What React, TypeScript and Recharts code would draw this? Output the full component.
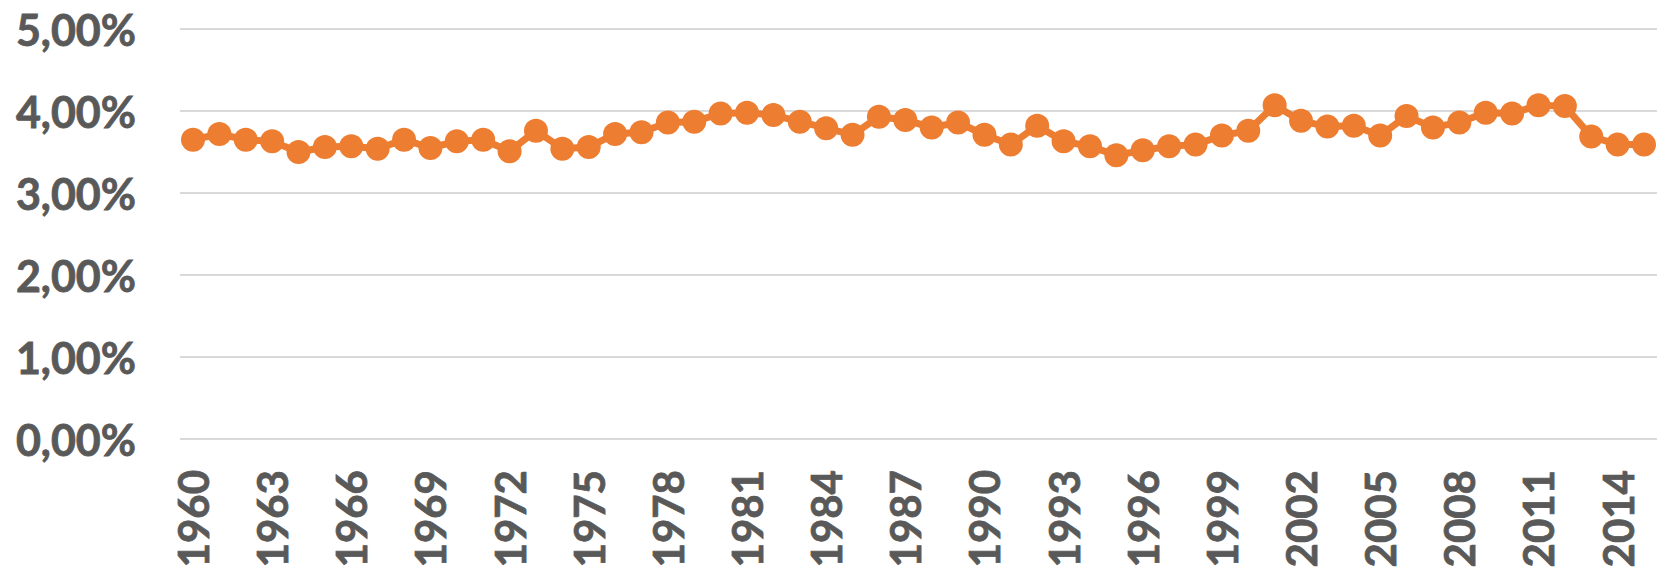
import { LineChart, Line, XAxis, YAxis, CartesianGrid } from 'recharts';

const years = [
  1960, 1961, 1962, 1963, 1964, 1965, 1966, 1967, 1968, 1969,
  1970, 1971, 1972, 1973, 1974, 1975, 1976, 1977, 1978, 1979,
  1980, 1981, 1982, 1983, 1984, 1985, 1986, 1987, 1988, 1989,
  1990, 1991, 1992, 1993, 1994, 1995, 1996, 1997, 1998, 1999,
  2000, 2001, 2002, 2003, 2004, 2005, 2006, 2007, 2008, 2009,
  2010, 2011, 2012, 2013, 2014, 2015,
];

// percent values
const rates = [
  3.65, 3.72, 3.65, 3.63, 3.50, 3.56, 3.57, 3.54, 3.65, 3.55,
  3.63, 3.65, 3.51, 3.76, 3.54, 3.56, 3.72, 3.74, 3.86, 3.87,
  3.97, 3.98, 3.95, 3.87, 3.79, 3.71, 3.93, 3.89, 3.80, 3.86,
  3.71, 3.59, 3.82, 3.63, 3.57, 3.46, 3.52, 3.57, 3.59, 3.70,
  3.76, 4.07, 3.88, 3.81, 3.82, 3.70, 3.94, 3.80, 3.86, 3.98,
  3.97, 4.07, 4.06, 3.69, 3.59, 3.59,
];

const yTicks = [0, 1, 2, 3, 4, 5];

const data = years.map((y, i) => ({ year: String(y), rate: rates[i] }));

const FONT = 'Lato, "Open Sans", sans-serif';
const TEXT = '#595959';
const ORANGE = '#ED7D31';

const fmt = (v: number) => `${v.toFixed(2).replace('.', ',')}%`;

function YTick({ x, y, payload }: any) {
  return (
    <text
      x={x - 44}
      y={y}
      textAnchor="end"
      dominantBaseline="central"
      fill={TEXT}
      stroke={TEXT}
      strokeWidth={0.8}
      fontFamily={FONT}
      fontWeight={700}
      fontSize={43}
    >
      {fmt(payload.value)}
    </text>
  );
}

function XTick({ x, y, payload }: any) {
  const tx = x + 16;
  const ty = y + 31;
  return (
    <text
      x={tx}
      y={ty}
      transform={`rotate(-90, ${tx}, ${ty})`}
      textAnchor="end"
      fill={TEXT}
      stroke={TEXT}
      strokeWidth={0.8}
      fontFamily={FONT}
      fontWeight={700}
      fontSize={42}
    >
      {payload.value}
    </text>
  );
}

export default function App() {
  return (
    <div style={{ position: 'absolute', left: 0, top: 0, background: '#fff' }}>
      <LineChart
        width={1660}
        height={570}
        data={data}
        margin={{ top: 29, right: 3, left: 0, bottom: 0 }}
      >
        <CartesianGrid vertical={false} stroke="#d9d9d9" strokeWidth={2} />
        <XAxis
          dataKey="year"
          height={131}
          interval={2}
          padding={{ left: 13, right: 13 }}
          axisLine={false}
          tickLine={false}
          tickSize={0}
          tickMargin={0}
          tick={<XTick />}
        />
        <YAxis
          width={180}
          domain={[0, 5]}
          ticks={yTicks}
          axisLine={false}
          tickLine={false}
          tickSize={0}
          tickMargin={0}
          tick={<YTick />}
        />
        <Line
          type="linear"
          dataKey="rate"
          stroke={ORANGE}
          strokeWidth={7}
          dot={{ r: 12, fill: ORANGE, stroke: ORANGE, strokeWidth: 0 }}
          activeDot={false}
          isAnimationActive={false}
        />
      </LineChart>
    </div>
  );
}
